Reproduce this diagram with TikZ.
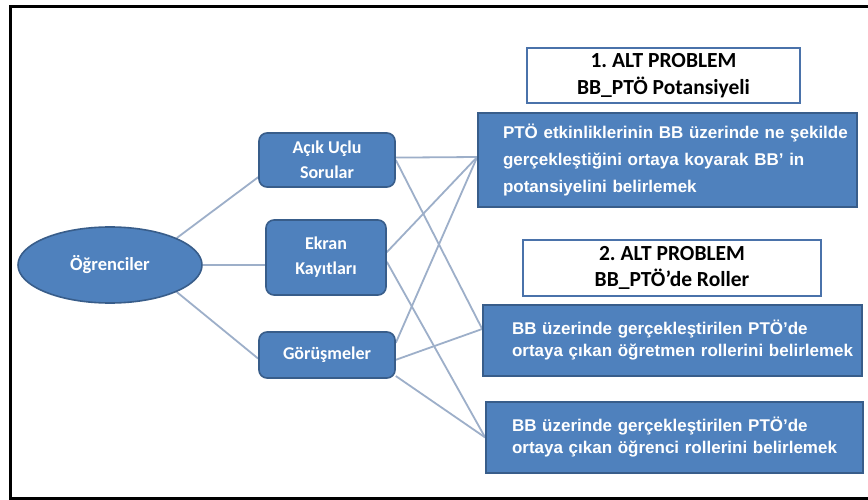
\documentclass[tikz,border=0pt]{standalone}
\usepackage{fontspec}
\setmainfont{Liberation Sans}
\newfontfamily\calib{Carlito}
\usetikzlibrary{shapes.geometric,backgrounds}
\definecolor{boxblue}{HTML}{4F81BD}
\definecolor{boxedge}{HTML}{385D8A}
\definecolor{linkgray}{HTML}{9DAFC9}
\definecolor{titleedge}{HTML}{4A72AA}
\frenchspacing

\begin{document}
\begin{tikzpicture}[x=1pt,y=-1pt,
  src/.style={draw=boxedge, line width=1.6pt, fill=boxblue, rounded corners=8pt,
    text=white, font=\calib\bfseries\fontsize{18}{25}\selectfont, align=center, inner sep=0pt},
  goal/.style={draw=boxedge, line width=1.6pt, fill=boxblue, text=white,
    font=\bfseries\fontsize{17}{27}\selectfont, align=left, inner ysep=0pt},
  titlebox/.style={draw=titleedge, line width=2.4pt, fill=white,
    font=\calib\bfseries\fontsize{21.5}{26.5}\selectfont, align=center, inner sep=0pt},
  link/.style={draw=linkgray, line width=1.8pt}]

\useasboundingbox (0,0) rectangle (868,500);

% data sources
\node[ellipse, draw=boxedge, line width=1.6pt, fill=boxblue, text=white,
      minimum width=184pt, minimum height=76pt, inner sep=0pt,
      font=\calib\bfseries\fontsize{18.5}{22}\selectfont] (ogr) at (110,265) {Öğrenciler};
\node[src, minimum width=136pt, minimum height=54pt] (acik) at (327,160) {Açık Uçlu\\Sorular};
\node[src, minimum width=120pt, minimum height=75pt] (ekran) at (326,257.5) {Ekran\\Kayıtları};
\node[src, minimum width=136pt, minimum height=46pt] (gor) at (327,355) {Görüşmeler};

% sub-problem headings
\node[titlebox, minimum width=273pt, minimum height=55pt] (alt1) at (663.5,75.5)
  {1. ALT PROBLEM\\BB\_PTÖ Potansiyeli};
\node[titlebox, minimum width=298pt, minimum height=56pt] (alt2) at (672,268)
  {2. ALT PROBLEM\\BB\_PTÖ’de Roller};

% goals
\node[goal, text width=329pt, inner xsep=25pt, minimum height=94pt] (hedef1) at (667.5,160)
  {\mbox{PTÖ etkinliklerinin BB üzerinde ne şekilde}\\
   \mbox{gerçekleştiğini ortaya koyarak BB’ in}\\
   \mbox{potansiyelini belirlemek}};
\node[goal, text width=321pt, inner xsep=29pt, minimum height=71pt,
      font=\bfseries\fontsize{17}{22}\selectfont] (hedef2) at (672.5,340.5)
  {\mbox{BB üzerinde gerçekleştirilen PTÖ’de}\\
   \mbox{ortaya çıkan öğretmen rollerini belirlemek}};
\node[goal, text width=325pt, inner xsep=26pt, minimum height=71pt,
      font=\bfseries\fontsize{17}{22}\selectfont] (hedef3) at (674.5,437.5)
  {\mbox{BB üzerinde gerçekleştirilen PTÖ’de}\\
   \mbox{ortaya çıkan öğrenci rollerini belirlemek}};

% meeting points on the goal boxes
\coordinate (h1in) at ([yshift=3pt]hedef1.west);
\coordinate (h2in) at ([yshift=11.5pt]hedef2.west);
\coordinate (h3in) at (hedef3.west);

\begin{scope}[on background layer]
  \fill[white] (0,0) rectangle (868,500);
  % student to sources
  \draw[link] (ogr.22) -- (acik.194);
  \draw[link] (ogr.east) -- (ogr.east -| ekran.west);
  \draw[link] (ogr.338) -- (gor.183);
  % sources to goals
  \draw[link] (acik.2) -- (h1in);
  \draw[link] (acik.east) -- (h2in);
  \draw[link] (ekran.5) -- (h1in);
  \draw[link] (ekran.356) -- (h3in);
  \draw[link] (gor.10) -- (h1in);
  \draw[link] (gor.356) -- (h2in);
  \draw[link] (gor.343) -- (h3in);
\end{scope}

% frame: top, left and bottom edges
\draw[line width=3pt] (868,6.5) -- (10,6.5) -- (10,498.5) -- (868,498.5);
\end{tikzpicture}
\end{document}
